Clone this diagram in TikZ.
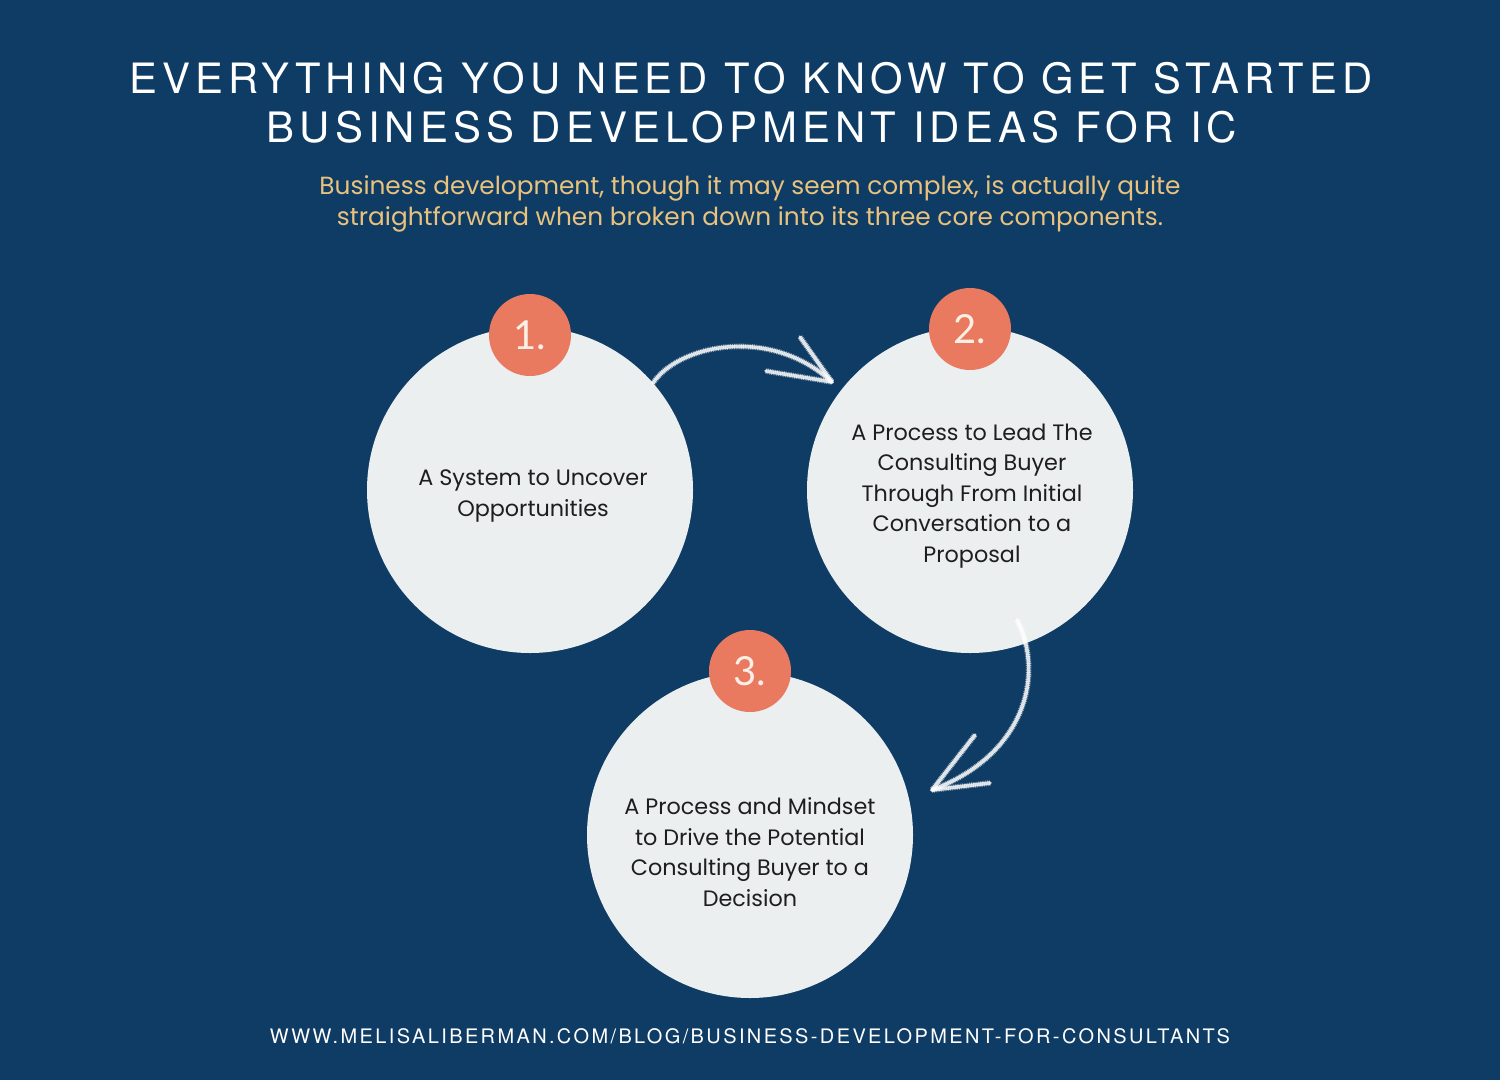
\documentclass[tikz,border=0pt]{standalone}
\usepackage{fontspec}
\usepackage{graphicx}
\setmainfont{Poppins}
\newfontfamily\titlefont[LetterSpace=12]{TeX Gyre Heros}
\newfontfamily\numfont{Lato}
\usetikzlibrary{calc}
\definecolor{bg}{HTML}{0F3C64}
\definecolor{disc}{HTML}{ECEFF0}
\definecolor{badge}{HTML}{E97A60}
\definecolor{gold}{HTML}{E9C27E}
\definecolor{ink}{HTML}{1E1E1E}
\definecolor{cream}{HTML}{FBEFE6}
\tikzset{
  bigdisc/.style={circle, fill=disc, minimum size=326pt, inner sep=0pt},
  badgedisc/.style={circle, fill=badge, minimum size=82pt, inner sep=0pt,
    font=\numfont\fontsize{40}{40}\selectfont, text=cream},
  disctext/.style={align=center, text=ink, font=\fontsize{22.3}{30.5}\selectfont},
  chalk/.style={draw=white, draw opacity=0.8, line width=3.6pt, line cap=round, line join=round},
  chalkgrain/.style={draw=white, draw opacity=0.55, line width=5.6pt, line cap=butt,
    dash pattern=on 0.9pt off 0.9pt},
}
\begin{document}
\begin{tikzpicture}[x=1pt,y=-1pt]
\fill[bg] (0,0) rectangle (1500,1080);
\useasboundingbox (0,0) rectangle (1500,1080);

% titles
\node[text=white, inner sep=0pt] (t1) at (751,78)
  {\resizebox{1243pt}{!}{\titlefont\fontsize{37}{37}\selectfont EVERYTHING YOU NEED TO KNOW TO GET STARTED}};
\node[text=white, inner sep=0pt] (t2) at (752,127)
  {\resizebox{970pt}{!}{\titlefont\fontsize{37}{37}\selectfont BUSINESS DEVELOPMENT IDEAS FOR IC}};

\node[text=gold, align=center, font=\fontsize{24.8}{31.5}\selectfont] (sub) at (750,204)
  {Business development, though it may seem complex, is actually quite\\
   straightforward when broken down into its three core components.};

% discs
\node[bigdisc] (c1) at (530,490) {};
\node[bigdisc] (c2) at (970,490) {};
\node[bigdisc] (c3) at (750,835) {};

\node[disctext] (x1) at (533,496) {A System to Uncover\\Opportunities};
\node[disctext] (x2) at (972,496) {A Process to Lead The\\Consulting Buyer\\Through From Initial\\Conversation to a\\Proposal};
\node[disctext] (x3) at (750,852) {A Process and Mindset\\to Drive the Potential\\Consulting Buyer to a\\Decision};

\node[badgedisc] (b1) at (530,335) {1.};
\node[badgedisc] (b2) at (970,329) {2.};
\node[badgedisc] (b3) at (750,671) {3.};

% arrow 1 -> 2
\coordinate (a1s) at ($(c1.center)+(123,-107)$);
\coordinate (a1t) at ($(c2.center)+(-138,-108)$);
\coordinate (a1u) at ($(a1t)+(-32,-45)$);
\coordinate (a1l) at ($(a1t)+(-66,-11)$);
\foreach \s in {chalk,chalkgrain}{
  \draw[\s] (a1s) .. controls (678,345) and (770,325) .. (a1t);
  \draw[\s] (a1u) -- (a1t);
  \draw[\s] (a1l) -- (a1t);
}

% arrow 2 -> 3
\coordinate (a2s) at ($(c2.center)+(47,130)$);
\coordinate (a2t) at ($(c3.center)+(182,-45)$);
\coordinate (a2u) at ($(a2t)+(43,-55)$);
\coordinate (a2l) at ($(a2t)+(58,-7)$);
\foreach \s in {chalk,chalkgrain}{
  \draw[\s] (a2s) .. controls (1045,675) and (1025,755) .. (a2t);
  \draw[\s] (a2u) -- (a2t);
  \draw[\s] (a2l) -- (a2t);
}

% url
\node[text=white, inner sep=0pt] (url) at (750,1036)
  {\resizebox{960pt}{!}{\titlefont\fontsize{19.5}{19.5}\selectfont WWW.MELISALIBERMAN.COM/BLOG/BUSINESS-DEVELOPMENT-FOR-CONSULTANTS}};
\end{tikzpicture}
\end{document}
